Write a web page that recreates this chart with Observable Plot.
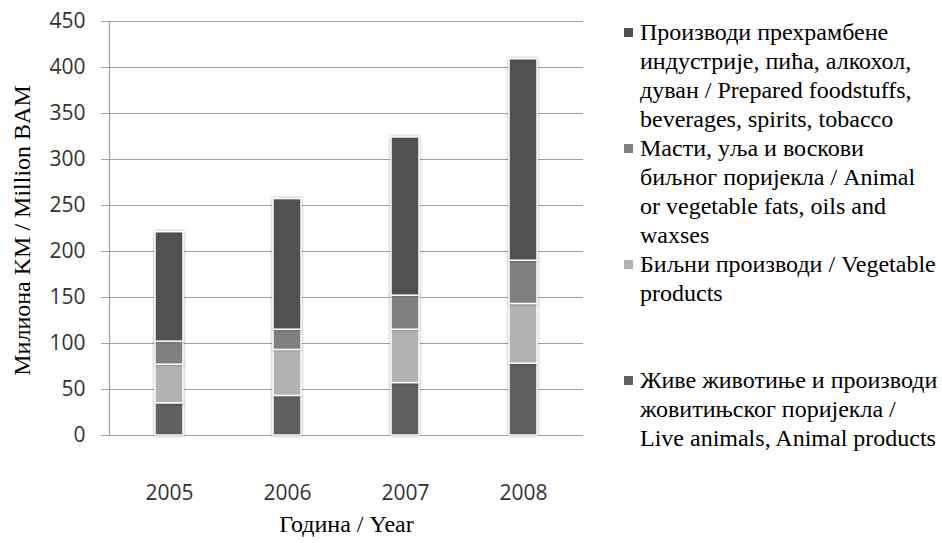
<!DOCTYPE html>
<html>
<head>
<meta charset="utf-8">
<script src="https://cdn.jsdelivr.net/npm/d3@7"></script>
<script src="https://cdn.jsdelivr.net/npm/@observablehq/plot@0.6"></script>
<style>
  body { margin: 0; background: #fff; }
  #wrap { position: relative; width: 942px; height: 543px; }
  #chart { position: absolute; left: 0; top: 0; }
  #legend { position: absolute; left: 624px; top: 18px; font-family: "Liberation Serif", "Times New Roman", serif; font-size: 24px; line-height: 29px; color: #000; }
  .item { position: relative; height: 116px; padding-left: 16px; white-space: pre; }
  .sw { position: absolute; left: 0; top: 10px; width: 9px; height: 9px; }
  svg g[aria-label="bar"] rect { filter: drop-shadow(0 0 1.5px rgba(0,0,0,0.35)); }
</style>
</head>
<body>
<div id="wrap">
  <div id="chart"></div>
  <div id="legend"></div>
</div>
<script>
const years = ["2005", "2006", "2007", "2008"];
const yTicks = [0, 50, 100, 150, 200, 250, 300, 350, 400, 450];

// series values (million BAM), bottom to top of the stack
const liveAnimals = [35, 43, 57, 78];
const vegetableProducts = [42, 50, 58, 65];
const fatsOils = [25, 22, 37, 47];
const preparedFoodstuffs = [119, 142, 172, 219];

// series names (stack order bottom → top)
const seriesNames = [
  "Живе животиње и производи\nжовитињског поријекла /\nLive animals, Animal products",
  "Биљни производи / Vegetable\nproducts",
  "Масти, уља и воскови\nбиљног поријекла / Animal\nor vegetable fats, oils and\nwaxses",
  "Производи прехрамбене\nиндустрије, пића, алкохол,\nдуван / Prepared foodstuffs,\nbeverages, spirits, tobacco"
];
const seriesColors = ["#606060", "#b2b2b2", "#808080", "#505050"];
const seriesValues = [liveAnimals, vegetableProducts, fatsOils, preparedFoodstuffs];

const yTitle = "Милиона KM / Million BAM";
const xTitle = "Година / Year";

const data = [];
years.forEach((yr, i) => {
  seriesNames.forEach((s, j) => data.push({year: yr, series: s, value: seriesValues[j][i]}));
});

const grid = "#a0a0a0";
const serif = "Liberation Serif, Times New Roman, serif";

const chart = Plot.plot({
  width: 600,
  height: 543,
  marginLeft: 109,
  marginRight: 17,
  marginTop: 21,
  marginBottom: 108,
  style: {fontFamily: "Open Sans, sans-serif", background: "white"},
  x: {domain: years, paddingInner: 0.76, paddingOuter: 0.38, label: null},
  y: {domain: [0, 450], label: null},
  color: {domain: seriesNames, range: seriesColors},
  marks: [
    Plot.gridY(yTicks, {stroke: grid, strokeOpacity: 1, strokeWidth: 1.2}),
    Plot.axisY(yTicks, {tickSize: 8, tickPadding: 16, stroke: grid, strokeOpacity: 1, fill: "#333", fontSize: 21, label: null}),
    Plot.axisX({tickSize: 0, tickPadding: 50, fill: "#333", fontSize: 21, label: null}),
    Plot.ruleY([0], {stroke: grid, strokeWidth: 1.2}),
    Plot.frame({anchor: "left", stroke: grid, strokeWidth: 1.2}),
    Plot.barY(data, {x: "year", y: "value", fill: "series", stroke: "white", strokeWidth: 1.5}),
    Plot.text([yTitle], {frameAnchor: "left", rotate: -90, dx: -87, dy: 2, fontSize: 24, fontFamily: serif, fill: "#000", lineAnchor: "middle", textAnchor: "middle"}),
    Plot.text([xTitle], {frameAnchor: "bottom", dy: 89, fontSize: 24, fontFamily: serif, fill: "#000", lineAnchor: "middle", textAnchor: "middle"})
  ]
});
document.getElementById("chart").appendChild(chart);

const legend = document.getElementById("legend");
[3, 2, 1, 0].forEach(j => {
  const item = document.createElement("div");
  item.className = "item";
  const sw = document.createElement("span");
  sw.className = "sw";
  sw.style.background = seriesColors[j];
  item.appendChild(sw);
  item.appendChild(document.createTextNode(seriesNames[j]));
  legend.appendChild(item);
});
</script>
</body>
</html>
